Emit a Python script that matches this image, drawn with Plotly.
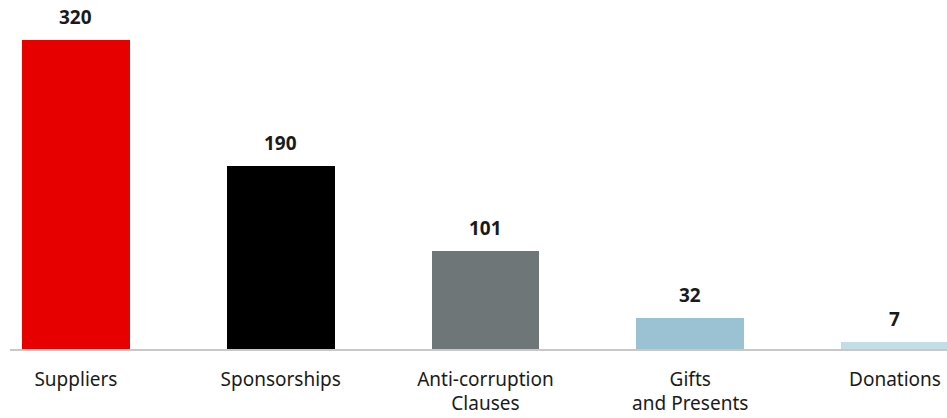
import plotly.graph_objects as go

categories = ["Suppliers", "Sponsorships", "Anti-corruption<br>Clauses", "Gifts<br>and Presents", "Donations"]
values = [320, 190, 101, 32, 7]
colors = ["#e60000", "#000000", "#6e7677", "#9bc2d3", "#c3dde7"]

fig = go.Figure(go.Bar(
    x=categories, y=values,
    marker=dict(color=colors, line=dict(width=0)),
    width=0.527,
    hoverinfo="x+y",
))
for c, v in zip(categories, values):
    fig.add_annotation(x=c, y=v, text=f"<b>{v}</b>", showarrow=False,
                       yanchor="bottom", yshift=8,
                       font=dict(size=19, color="#1a1a1a", family="Noto Sans"))
fig.update_layout(
    width=947, height=418,
    margin=dict(l=10, r=0, t=0, b=69),
    plot_bgcolor="white", paper_bgcolor="white",
    font=dict(family="Noto Sans", size=19, color="#1a1a1a"),
    showlegend=False,
    bargap=0,
)
fig.update_xaxes(range=[-0.322, 4.254], showline=True, linecolor="#c8c8c8", linewidth=1.5,
                 ticks="", showgrid=False, tickfont=dict(size=19), ticklabelstandoff=12)
fig.update_yaxes(range=[0, 361.4], visible=False, showgrid=False)
fig.write_html("out.html")
